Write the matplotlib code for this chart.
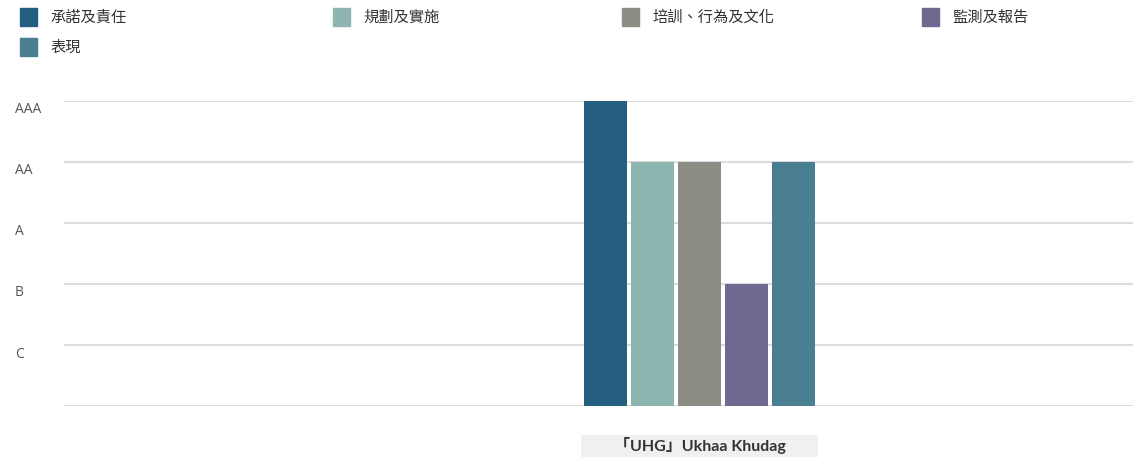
import matplotlib
matplotlib.use("Agg")
import matplotlib.pyplot as plt
import matplotlib.transforms as mtransforms
from matplotlib.patches import Rectangle

plt.rcParams['font.family'] = ['Noto Sans CJK TC', 'DejaVu Sans']

# ---- data ----
categories = ["「UHG」Ukhaa Khudag"]
series_names = ["承諾及責任", "規劃及實施", "培訓、行為及文化", "監測及報告", "表現"]
series_ratings = ["AAA", "AA", "AA", "B", "AA"]
rating_labels = ["C", "B", "A", "AA", "AAA"]
colors = ["#245f80", "#8db6b0", "#8c8c85", "#6f6991", "#4a7f91"]

rating_value = {r: i + 1 for i, r in enumerate(rating_labels)}

W, H = 1133, 458
fig = plt.figure(figsize=(W / 100, H / 100), dpi=100)
ax = fig.add_axes([64 / W, (H - 406) / H, (W - 64) / W, (406 - 101) / H * 1.0])

bar_w = 0.2
step = 0.219
n = len(series_names)
for ci, cat in enumerate(categories):
    for si, (name, rat) in enumerate(zip(series_names, series_ratings)):
        x = ci + (si - (n - 1) / 2) * step
        ax.bar(x, rating_value[rat], width=bar_w, color=colors[si], zorder=3,
               edgecolor="none")

ax.set_ylim(0, len(rating_labels))
ax.set_xlim(-2.956, 2.016)
ax.set_yticks(range(0, len(rating_labels) + 1))
ax.set_yticklabels([""] + rating_labels)
for s in ax.spines.values():
    s.set_visible(False)
ax.grid(axis='y', color='#dcdcdc', linewidth=1.5, zorder=0)
ax.tick_params(axis='y', length=0, labelsize=10, labelcolor='#555555', pad=49 * 0.72)
for lbl in ax.get_yticklabels():
    lbl.set_horizontalalignment('left')
    lbl.set_fontfamily(['Open Sans', 'DejaVu Sans'])
    lbl.set_transform(lbl.get_transform() + mtransforms.ScaledTranslation(0, -7 / 100, fig.dpi_scale_trans))
ax.set_xticks([])

# category label with grey box
trans = mtransforms.blended_transform_factory(ax.transData, fig.transFigure)
half = (n - 1) / 2 * step + bar_w / 2 + 0.014
for ci, cat in enumerate(categories):
    ax.add_patch(Rectangle((ci - half, (H - 457) / H), 2 * half, 22 / H,
                           transform=trans, facecolor='#f0f0f0', edgecolor='none',
                           clip_on=False))
    ax.text(ci, (H - 446) / H, cat, transform=trans,
            ha='center', va='center', fontsize=11.5, fontweight='bold',
            color='#333333', family=['Lato', 'Noto Sans CJK TC', 'DejaVu Sans'],
            clip_on=False)

# legend (manual, 4 columns)
col_x = [20, 333, 622, 922]
row_y = [17, 47]
sq = 17
for i, (name, c) in enumerate(zip(series_names, colors)):
    r, cidx = divmod(i, 4)
    x0 = col_x[cidx]
    yc = row_y[r]
    fig.patches.append(Rectangle((x0 / W, (H - yc - sq / 2) / H), sq / W, sq / H,
                                 transform=fig.transFigure, color=c, figure=fig))
    fig.text((x0 + 30) / W, (H - yc) / H, name, ha='left', va='center',
             fontsize=11, color='#333333', fontweight='medium')

fig.savefig("out.png", dpi=100)
